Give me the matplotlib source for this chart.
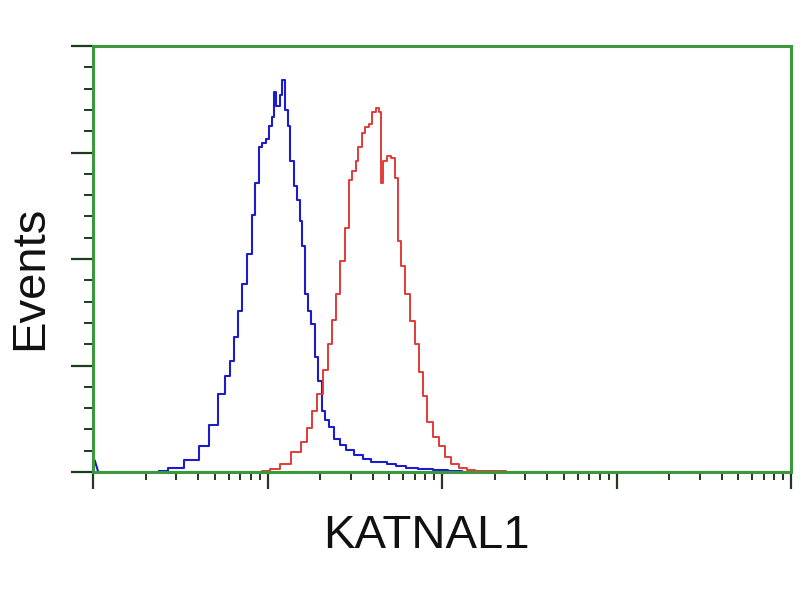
import numpy as np
import matplotlib
matplotlib.use("Agg")
import matplotlib.pyplot as plt
from matplotlib.ticker import LogLocator, MultipleLocator, NullFormatter

# histogram channels (log10 of intensity, event counts)
control_log = [0.00, 0.01, 0.03, 0.38, 0.47, 0.57, 0.64, 0.69, 0.74, 0.77, 0.80, 0.82, 0.84,
               0.87, 0.90, 0.92, 0.94, 0.96, 0.98, 1.00, 1.02, 1.03, 1.04, 1.06, 1.08,
               1.09, 1.11, 1.12, 1.14, 1.16, 1.18, 1.19, 1.21, 1.22, 1.24, 1.26, 1.28,
               1.30, 1.32, 1.34, 1.36, 1.40, 1.43, 1.47, 1.52, 1.57, 1.62, 1.66, 1.71,
               1.76, 1.82, 1.90, 1.99, 2.07, 2.15]
control_cnt = [0, 11, 0, 1, 4, 11, 24, 44, 73, 90, 104, 127, 151,
               177, 205, 241, 271, 305, 309, 313, 325, 333, 357, 344, 354,
               368, 340, 325, 292, 269, 255, 236, 212, 167, 151, 139, 108,
               85, 57, 49, 42, 31, 25, 21, 16, 12, 9, 9, 8,
               6, 4, 3, 2, 1, 0]

katnal1_log = [0.95, 0.99, 1.04, 1.10, 1.17, 1.21, 1.24, 1.27, 1.30, 1.33, 1.36, 1.38,
               1.40, 1.43, 1.46, 1.47, 1.50, 1.51, 1.53, 1.55, 1.57, 1.59, 1.61, 1.63,
               1.645, 1.656, 1.67, 1.70, 1.72, 1.74, 1.754, 1.78, 1.80, 1.83, 1.86, 1.88,
               1.90, 1.93, 1.97, 2.00, 2.03, 2.07, 2.12, 2.16, 2.22, 2.33, 2.40]
katnal1_cnt = [0, 1, 3, 8, 19, 28, 41, 57, 73, 96, 120, 143,
               167, 198, 229, 274, 283, 292, 305, 318, 324, 327, 338, 342,
               338, 271, 292, 297, 295, 276, 217, 193, 167, 142, 120, 94,
               71, 47, 33, 24, 14, 8, 4, 2, 1, 1, 0]

x_label = "KATNAL1"
y_label = "Events"

green = "#3c983c"
tick_col = "#1f3a1f"
blue = "#1c1ccc"
red = "#e23a3a"

fig = plt.figure(figsize=(8, 6), dpi=100)
ax = fig.add_axes([0.11625, 0.2133, 0.8725, 0.71])

cx = 10 ** np.array(control_log)
# first channel pile-up drawn on its own, rest as histogram steps
ax.plot(cx[:3], control_cnt[:3], color=blue, lw=1.5)
ax.plot(cx[3:], control_cnt[3:], drawstyle="steps-mid", color=blue, lw=1.5)
ax.plot(10 ** np.array(katnal1_log), katnal1_cnt, drawstyle="steps-mid",
        color=red, lw=1.4)

ax.set_xscale("log")
ax.set_xlim(1, 1e4)
ax.set_ylim(0, 400)

for s in ax.spines.values():
    s.set_color(green)
    s.set_linewidth(2.2)

ax.xaxis.set_major_locator(LogLocator(base=10, numticks=10))
ax.xaxis.set_minor_locator(LogLocator(base=10, subs=np.arange(2, 10), numticks=20))
ax.yaxis.set_major_locator(MultipleLocator(100))
ax.yaxis.set_minor_locator(MultipleLocator(20))
ax.xaxis.set_major_formatter(NullFormatter())
ax.xaxis.set_minor_formatter(NullFormatter())
ax.yaxis.set_major_formatter(NullFormatter())

ax.tick_params(axis="x", which="major", direction="out", length=12, width=1.6, color=tick_col)
ax.tick_params(axis="x", which="minor", direction="out", length=6, width=1.4, color=tick_col)
ax.tick_params(axis="y", which="major", direction="out", length=16, width=1.6, color=tick_col)
ax.tick_params(axis="y", which="minor", direction="out", length=6.5, width=1.4, color=tick_col)
ax.tick_params(top=False, right=False)

fig.text(0.5325, 0.107, x_label, ha="center", va="center",
         fontsize=34, family="Liberation Sans", color="#111111")
fig.text(0.0375, 0.537, y_label, ha="center", va="center", rotation=90,
         fontsize=34, family="Liberation Sans", color="#111111")

fig.savefig("out.png", dpi=100)
